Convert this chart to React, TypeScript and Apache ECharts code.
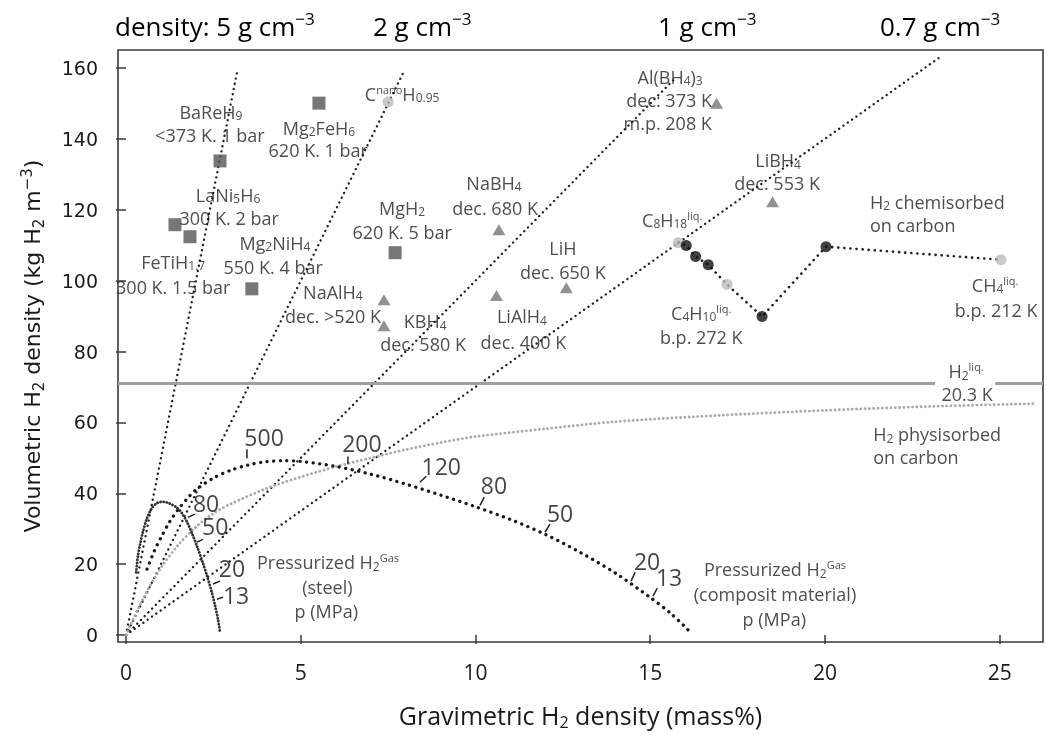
import React, { useEffect, useRef } from "react";
import * as echarts from "echarts";

const F = '"Open Sans", "Noto Sans", sans-serif';
const DV = '"DejaVu Sans", "Noto Sans", sans-serif';
const TXT = "#222";

// axis extents / ticks
const xRange = [-0.23, 26.24];
const yRange = [-1.97, 165.1];
const xTicks = [0, 5, 10, 15, 20, 25];
const yTicks = [0, 20, 40, 60, 80, 100, 120, 140, 160];

// density lines (start at origin)
const densityLines = [
  [[0, 0], [3.18, 159]],
  [[0, 0], [7.93, 158.6]],
  [[0, 0], [15.75, 157.5]],
  [[0, 0], [23.35, 163.5]],
];
const densityLabels = [
  { text: "density: 5 g cm", sup: "−3", x: 115 },
  { text: "2 g cm", sup: "−3", x: 373 },
  { text: "1 g cm", sup: "−3", x: 658 },
  { text: "0.7 g cm", sup: "−3", x: 880 },
];

// liquid hydrogen line (with a gap for its label)
const h2LiqA = [[-0.23, 71], [23.15, 71]];
const h2LiqB = [[24.87, 71], [26.24, 71]];

// H2 physisorbed on carbon
const physisorbed = [
  [0, 0], [0.5, 10.5], [1, 19], [1.5, 25.5], [2, 30.5], [2.5, 34.3], [3, 37], [4, 41.3],
  [5, 44.6], [6, 47.5], [7, 50], [8, 52.3], [9, 54.3], [10, 56], [12, 58.2], [14, 60.2],
  [17, 62], [20, 63.4], [23, 64.5], [26, 65.3],
];

// pressurized gas, composite tank
const composite = [
  [0.6, 18.6], [0.8, 23.5], [1, 27.5], [1.25, 32], [1.5, 35.5], [1.75, 38.5], [2, 41],
  [2.5, 44.3], [3, 46.5], [3.5, 48], [4, 48.9], [4.5, 49.2], [5, 49], [6, 47.6], [7, 45.4],
  [8, 42.6], [9, 39.5], [10, 36.2], [11, 32.6], [12, 28.4], [13, 23.3], [14, 17.5],
  [15, 10.6], [15.6, 6], [16.14, 0.9],
];

// pressurized gas, steel tank
const steel = [
  [0.29, 17.7], [0.34, 22.3], [0.4, 25.5], [0.48, 29], [0.6, 33], [0.75, 36], [0.9, 37.3],
  [1.06, 37.6], [1.25, 37.1], [1.46, 35.9], [1.6, 34.4], [1.75, 31.8], [1.9, 28.4],
  [2.03, 25.1], [2.2, 20.3], [2.32, 16.6], [2.45, 12.2], [2.55, 8.2], [2.63, 4.5], [2.69, 0.8],
];

// pressure tick marks
const pressureTicks = [
  [[1.77, 33.2], [1.97, 34.1]],
  [[2.03, 26.2], [2.2, 27.0]],
  [[2.49, 14.4], [2.69, 15.2]],
  [[2.6, 10.1], [2.78, 10.7]],
  [[3.46, 49.9], [3.46, 52.4]],
  [[6.35, 48.2], [6.35, 50.4]],
  [[8.41, 43.1], [8.59, 44.8]],
  [[10.13, 36.6], [10.25, 38.9]],
  [[11.99, 29], [12.13, 31.3]],
  [[14.45, 15.2], [14.57, 17.7]],
  [[15.08, 11], [15.2, 13.2]],
];
const pressureLabels = [
  [2.29, 37.2, "80"], [2.55, 30.7, "50"], [3.03, 18.9, "20"], [3.15, 11.3, "13"],
  [3.95, 56, "500"], [6.75, 54.1, "200"], [9.02, 47.6, "120"], [10.53, 42.3, "80"],
  [12.42, 34.4, "50"], [14.91, 20.8, "20"], [15.54, 16.3, "13"],
];

// materials
const hydrides = [
  [2.69, 133.8], [5.52, 150.1], [1.4, 115.8], [1.83, 112.4], [3.6, 97.7], [7.7, 107.9],
];
const complexHydrides = [
  [16.9, 150.1], [18.5, 122.3], [10.67, 114.4], [12.6, 98], [10.6, 95.8], [7.38, 94.6], [7.38, 87.3],
];
const hydrocarbons = [
  [7.5, 150.4], [15.8, 110.7], [17.2, 98.9], [25.04, 105.9],
];
const chemisorbedPts = [
  [16.03, 109.9], [16.3, 106.8], [16.66, 104.5], [18.2, 89.9], [20.03, 109.6],
];
const chemisorbedLine = [
  [15.8, 110.7], [16.03, 109.9], [16.3, 106.8], [16.66, 104.5], [17.2, 98.9],
  [18.2, 89.9], [20.03, 109.6], [25.04, 105.9],
];

// text annotations: x, y, rich text, align
const annotations: [number, number, string, string?][] = [
  [2.43, 147.7, "{t|BaReH}{s|9}"],
  [2.4, 141.1, "{t|<373 K. 1 bar}"],
  [5.52, 143.1, "{t|Mg}{s|2}{t|FeH}{s|6}"],
  [5.5, 136.9, "{t|620 K. 1 bar}"],
  [7.9, 152.7, "{t|C}{p|nano}{t|H}{s|0.95}"],
  [2.92, 124.2, "{t|LaNi}{s|5}{t|H}{s|6}"],
  [2.95, 117.7, "{t|300 K. 2 bar}"],
  [1.35, 105.4, "{t|FeTiH}{s|1.7}"],
  [1.35, 98.3, "{t|300 K. 1.5 bar}"],
  [4.26, 110.7, "{t|Mg}{s|2}{t|NiH}{s|4}"],
  [4.21, 104, "{t|550 K. 4 bar}"],
  [7.9, 120.6, "{t|MgH}{s|2}"],
  [7.9, 113.8, "{t|620 K. 5 bar}"],
  [5.92, 96.9, "{t|NaAlH}{s|4}"],
  [5.92, 89.9, "{t|dec. >520 K}"],
  [8.56, 88.5, "{t|KBH}{s|4}"],
  [8.5, 82, "{t|dec. 580 K}"],
  [10.53, 127.6, "{t|NaBH}{s|4}"],
  [10.56, 120.6, "{t|dec. 680 K}"],
  [12.5, 109.3, "{t|LiH}"],
  [12.5, 102.5, "{t|dec. 650 K}"],
  [11.33, 89.9, "{t|LiAlH}{s|4}"],
  [11.37, 82.8, "{t|dec. 400 K}"],
  [15.57, 157.5, "{t|Al(BH}{s|4}{t|)}{s|3}"],
  [15.54, 151, "{t|dec: 373 K}"],
  [15.5, 144.5, "{t|m.p. 208 K}"],
  [18.66, 134, "{t|LiBH}{s|4}"],
  [18.63, 127.6, "{t|dec. 553 K}"],
  [15.63, 117.2, "{t|C}{s|8}{t|H}{s|18}{p|liq.}"],
  [16.46, 91, "{t|C}{s|4}{t|H}{s|10}{p|liq.}"],
  [16.46, 84.2, "{t|b.p. 272 K}"],
  [21.29, 122.3, "{t|H}{s|2}{t| chemisorbed}", "left"],
  [21.29, 115.8, "{t|on carbon}", "left"],
  [24.87, 98.9, "{t|CH}{s|4}{p|liq.}"],
  [24.9, 91.8, "{t|b.p. 212 K}"],
  [24.04, 74.4, "{t|H}{s|2}{p|liq.}"],
  [24.07, 67.9, "{t|20.3 K}"],
  [21.38, 56.6, "{t|H}{s|2}{t| physisorbed}", "left"],
  [21.38, 50.1, "{t|on carbon}", "left"],
  [5.78, 20.6, "{t|Pressurized H}{s|2}{p|Gas}"],
  [5.76, 13.5, "{t|(steel)}"],
  [5.73, 6.8, "{t|p (MPa)}"],
  [18.57, 18.6, "{t|Pressurized H}{s|2}{p|Gas}"],
  [18.57, 11.5, "{t|(composit material)}"],
  [18.55, 4.5, "{t|p (MPa)}"],
];

const rich = {
  t: { fontFamily: F, fontSize: 18, color: TXT, lineHeight: 20 },
  s: { fontFamily: F, fontSize: 12, color: TXT, lineHeight: 11, verticalAlign: "bottom" },
  p: { fontFamily: F, fontSize: 11, color: TXT, lineHeight: 10, verticalAlign: "top" },
  n: { fontFamily: F, fontSize: 23, color: "#151515", lineHeight: 24 },
};

const dotted = (color: string, width: number, gap: number) => ({
  color,
  width,
  type: [0.1, gap],
  cap: "round",
});

export default function App() {
  const ref = useRef<HTMLDivElement>(null);
  useEffect(() => {
    if (!ref.current) return;
    const chart = echarts.init(ref.current, null, { renderer: "svg" });
    const lineBase = { type: "line", symbol: "none", silent: true, animation: false };
    const series: any[] = [];

    densityLines.forEach((d) =>
      series.push({ ...lineBase, data: d, lineStyle: dotted("#1f1f1f", 2.3, 5.2), z: 2 })
    );
    series.push({ ...lineBase, data: h2LiqA, lineStyle: { color: "#a0a0a0", width: 3 }, z: 2 });
    series.push({ ...lineBase, data: h2LiqB, lineStyle: { color: "#a0a0a0", width: 3 }, z: 2 });
    series.push({
      ...lineBase, data: physisorbed, smooth: 0.3,
      lineStyle: dotted("#aaa", 2.8, 4.2), z: 2,
    });
    series.push({
      ...lineBase, data: composite, smooth: 0.3,
      lineStyle: dotted("#1a1a1a", 3.3, 6.5), z: 3,
    });
    series.push({
      ...lineBase, data: steel, smooth: 0.3,
      lineStyle: dotted("#333", 2.8, 3), z: 3,
    });
    pressureTicks.forEach((d) =>
      series.push({ ...lineBase, data: d, lineStyle: { color: "#222", width: 1.5 }, z: 3 })
    );
    series.push({ ...lineBase, data: chemisorbedLine, lineStyle: dotted("#222", 2.6, 6), z: 3 });

    series.push({
      type: "scatter", data: hydrides, symbol: "rect", symbolSize: 13,
      itemStyle: { color: "#555" }, z: 5, silent: true,
    });
    series.push({
      type: "scatter", data: complexHydrides, symbol: "triangle", symbolSize: [13, 11],
      itemStyle: { color: "#777" }, z: 5, silent: true,
    });
    series.push({
      type: "scatter", data: hydrocarbons, symbol: "circle", symbolSize: 11,
      itemStyle: { color: "#bbb" }, z: 5, silent: true,
    });
    series.push({
      type: "scatter", data: chemisorbedPts, symbol: "circle", symbolSize: 11,
      itemStyle: { color: "#111" }, z: 5, silent: true,
    });

    const annData = annotations.map(([x, y, txt, align]) => ({
      value: [x, y],
      label: { formatter: txt, align: align || "center" },
    }));
    pressureLabels.forEach(([x, y, txt]) =>
      annData.push({ value: [x as number, y as number], label: { formatter: `{n|${txt}}`, align: "center" } })
    );
    series.push({
      type: "scatter", data: annData, symbolSize: 1, silent: true, z: 10,
      itemStyle: { color: "rgba(0,0,0,0)" },
      label: { show: true, position: "inside", verticalAlign: "middle", rich },
    });

    chart.setOption({
      animation: false,
      grid: {
        show: true, left: 118, right: 4, top: 50, bottom: 92,
        borderColor: "#3a3a3a", borderWidth: 1.6, backgroundColor: "transparent",
      },
      xAxis: {
        type: "value", min: xRange[0], max: xRange[1],
        axisLine: { show: false },
        splitLine: { show: false },
        axisTick: { show: true, length: 9, customValues: xTicks, lineStyle: { color: "#3a3a3a", width: 1.5 } },
        axisLabel: {
          customValues: xTicks, margin: 19, fontFamily: F, fontSize: 21, color: "#1a1a1a",
        },
        name: "{a|Gravimetric H}{s|2}{a| density (mass%)}",
        nameLocation: "middle", nameGap: 58,
        nameTextStyle: {
          rich: {
            a: { fontFamily: F, fontSize: 25, color: "#1a1a1a", lineHeight: 30 },
            s: { fontFamily: F, fontSize: 16, color: "#1a1a1a", lineHeight: 16, verticalAlign: "bottom" },
          },
        },
      },
      yAxis: {
        type: "value", min: yRange[0], max: yRange[1],
        axisLine: { show: false },
        splitLine: { show: false },
        axisTick: { show: true, length: 10, customValues: yTicks, lineStyle: { color: "#3a3a3a", width: 1.5 } },
        axisLabel: {
          customValues: yTicks, margin: 20, fontFamily: DV, fontSize: 19, color: "#1a1a1a",
        },
        name: "{a|Volumetric H}{s|2}{a| density (kg H}{s|2}{a| m}{p|−3}{a|)}",
        nameLocation: "middle", nameGap: 72,
        nameTextStyle: {
          rich: {
            a: { fontFamily: DV, fontSize: 22, color: "#1a1a1a", lineHeight: 27 },
            s: { fontFamily: DV, fontSize: 15, color: "#1a1a1a", lineHeight: 15, verticalAlign: "bottom" },
            p: { fontFamily: DV, fontSize: 15, color: "#1a1a1a", lineHeight: 15, verticalAlign: "top" },
          },
        },
      },
      graphic: densityLabels.map((d) => ({
        type: "text",
        x: d.x,
        y: 26,
        silent: true,
        style: {
          text: `{d|${d.text}}{e|${d.sup}}`,
          verticalAlign: "middle",
          rich: {
            d: { fontFamily: F, fontSize: 26, color: "#1a1a1a", lineHeight: 32 },
            e: { fontFamily: F, fontSize: 17, color: "#1a1a1a", lineHeight: 17, verticalAlign: "top" },
          },
        },
      })),
      series,
    });
    return () => chart.dispose();
  }, []);
  return <div ref={ref} style={{ position: "fixed", left: 0, top: 0, width: 1047, height: 735 }} />;
}
